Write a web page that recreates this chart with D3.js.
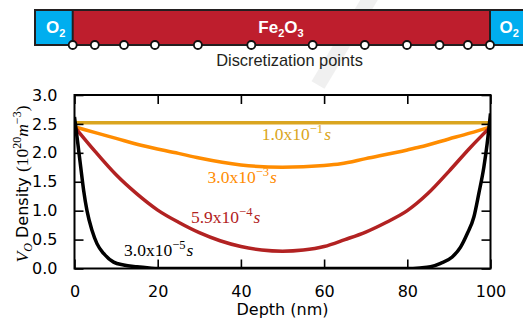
<!DOCTYPE html>
<html><head><meta charset="utf-8">
<script src="https://cdn.jsdelivr.net/npm/d3@7"></script>
<style>body{margin:0;background:#fff} svg{display:block}</style>
</head><body><svg id="c" width="523" height="320"></svg>
<script>
// ---------- data ----------
const xTicks = [0, 20, 40, 60, 80, 100];
const xTickLabels = ["0", "20", "40", "60", "80", "100"];
const yTicks = [0, 0.5, 1.0, 1.5, 2.0, 2.5, 3.0];
const yTickLabels = ["0.0", "0.5", "1.0", "1.5", "2.0", "2.5", "3.0"];

const discretizationPoints = [0, 5.3, 12.3, 19.7, 30.0, 42.8, 57.5, 70.0, 80.1, 87.9, 94.7, 100];

const depthT1 = [0, 25, 50, 75, 100];
const valT1   = [2.52, 2.52, 2.52, 2.52, 2.52];           // 1.0x10^-1 s

const depthT2 = [0, 5, 10, 16, 25, 30, 40, 50, 60, 64, 70, 80, 83, 90, 95, 100];
const valT2   = [2.45, 2.35, 2.25, 2.13, 1.99, 1.91, 1.79, 1.75, 1.78, 1.81, 1.90, 2.05, 2.10, 2.24, 2.34, 2.45];   // 3.0x10^-3 s

const depthT3 = [0, 5, 10, 15, 20, 25, 30, 35, 40, 45, 50, 55, 60, 65, 70, 75, 80, 85, 90, 95, 100];
const valT3   = [2.45, 2.02, 1.62, 1.29, 1.01, 0.80, 0.62, 0.48, 0.38, 0.32, 0.30, 0.32, 0.38, 0.50, 0.63, 0.80, 1.00, 1.30, 1.68, 2.08, 2.45];   // 5.9x10^-4 s

const depthT4 = [0, 0.8, 1.5, 2.2, 3.0, 4.2, 5.4, 7.0, 9.4, 11.8, 15, 18, 20, 80, 83, 85.6, 88, 90.8, 92.8, 94.4, 96, 97.2, 98.4, 99.2, 100];
const valT4   = [2.62, 2.16, 1.75, 1.35, 1.00, 0.66, 0.43, 0.26, 0.11, 0.06, 0.03, 0.01, 0.0, 0.0, 0.01, 0.03, 0.09, 0.20, 0.37, 0.60, 0.89, 1.30, 1.75, 2.16, 2.68];   // 3.0x10^-5 s

const labelMantissa = ["1.0", "3.0", "5.9", "3.0"];
const labelExponent = ["\u22121", "\u22123", "\u22124", "\u22125"];
// label anchor (depth, value) in data units
const labelDepth = [45.0, 32.0, 28.0, 11.9];
const labelValue = [2.22, 1.47, 0.78, 0.215];

// ---------- styles ----------
const colors = ["#DAA520", "#FF8C00", "#B22222", "#000000"];
const serif = "'Liberation Serif', 'Times New Roman', serif";
const sans = "'DejaVu Sans', sans-serif";
const arial = "'Liberation Sans', Arial, sans-serif";

const svg = d3.select("#c");

// faint watermark-like band
svg.append("path")
  .attr("d", "M372,-5 L318,85")
  .attr("stroke", "#f0f0f0").attr("stroke-width", 15).attr("fill", "none");

// ---------- top diagram ----------
const dx = d3.scaleLinear().domain([0, 100]).range([72.7, 490]);
const barTop = 10, barBot = 45;
const g0 = svg.append("g");
g0.append("rect").attr("x", 35).attr("y", barTop).attr("width", dx(0) - 35).attr("height", barBot - barTop).attr("fill", "#00AEEF");
g0.append("rect").attr("x", dx(0)).attr("y", barTop).attr("width", dx(100) - dx(0)).attr("height", barBot - barTop).attr("fill", "#BE1E2D");
g0.append("rect").attr("x", dx(100)).attr("y", barTop).attr("width", 40).attr("height", barBot - barTop).attr("fill", "#00AEEF");
g0.append("path")
  .attr("d", `M530,${barTop}H35V${barBot}H530`)
  .attr("fill", "none").attr("stroke", "#231f20").attr("stroke-width", 2);
[0, 100].forEach(v => g0.append("line").attr("x1", dx(v)).attr("x2", dx(v)).attr("y1", barTop).attr("y2", barBot).attr("stroke", "#231f20").attr("stroke-width", 2));

function chem(g, x, y, parts, anchor) {
  const t = g.append("text").attr("x", x).attr("y", y).attr("fill", "#fff")
    .attr("font-family", arial).attr("font-weight", "bold").attr("text-anchor", anchor || "start");
  parts.forEach(p => {
    const s = t.append("tspan").text(p[0]).attr("font-size", p[1] ? 11 : 17);
    if (p[1]) s.attr("dy", 4); else if (p[2]) s.attr("dy", -4);
  });
  return t;
}
chem(g0, 46, 33.3, [["O"], ["2", 1]]);
chem(g0, 499.5, 33.3, [["O"], ["2", 1]]);
chem(g0, 281, 33.3, [["Fe"], ["2", 1], ["O", 0, 1], ["3", 1]], "middle");

g0.selectAll("circle.dp").data(discretizationPoints).enter().append("circle")
  .attr("cx", d => dx(d)).attr("cy", barBot).attr("r", 4)
  .attr("fill", "#fff").attr("stroke", "#111").attr("stroke-width", 1.8);

g0.append("text").attr("x", 289.5).attr("y", 66).attr("text-anchor", "middle")
  .attr("font-family", arial).attr("font-size", 16.4).attr("fill", "#231f20")
  .text("Discretization points");

// ---------- plot ----------
const x = d3.scaleLinear().domain([0, 100]).range([74.5, 490.5]);
const y = d3.scaleLinear().domain([0, 3]).range([268.5, 95]);

const line = d3.line().x(d => x(d[0])).y(d => y(d[1])).curve(d3.curveMonotoneX);
const series = [
  d3.zip(depthT1, valT1),
  d3.zip(depthT2, valT2),
  d3.zip(depthT3, valT3),
  d3.zip(depthT4, valT4)
];
const plot = svg.append("g");
plot.append("defs").append("clipPath").attr("id", "clip")
  .append("rect").attr("x", x(0)).attr("y", y(3)).attr("width", x(100) - x(0)).attr("height", y(0) - y(3));
series.forEach((s, i) => {
  plot.append("path").datum(s).attr("d", line)
    .attr("fill", "none").attr("stroke", colors[i]).attr("stroke-width", 3.5)
    .attr("stroke-linejoin", "round").attr("clip-path", "url(#clip)");
});

// series labels
labelMantissa.forEach((m, i) => {
  const t = svg.append("text").attr("x", x(labelDepth[i])).attr("y", y(labelValue[i]))
    .attr("font-family", serif).attr("font-size", 17.5).attr("fill", colors[i]);
  t.append("tspan").text(m + "x10");
  t.append("tspan").text(labelExponent[i]).attr("font-size", 12.5).attr("dy", -7);
  t.append("tspan").text("s").attr("font-style", "italic").attr("dy", 7).attr("dx", 1);
});

// axes (ticks inward on all sides)
const tl = 9;
const axB = d3.axisBottom(x).tickValues(xTicks).tickFormat((d, i) => xTickLabels[i]).tickSizeInner(-tl).tickSizeOuter(0).tickPadding(8 + tl);
const axT = d3.axisTop(x).tickValues(xTicks).tickFormat("").tickSizeInner(-tl).tickSizeOuter(0);
const axL = d3.axisLeft(y).tickValues(yTicks).tickFormat((d, i) => yTickLabels[i]).tickSizeInner(-tl).tickSizeOuter(0).tickPadding(8 + tl);
const axR = d3.axisRight(y).tickValues(yTicks).tickFormat("").tickSizeInner(-tl).tickSizeOuter(0);
function styleAx(g) {
  g.select(".domain").remove();
  g.selectAll(".tick line").attr("stroke", "#000").attr("stroke-width", 1.6);
  g.selectAll(".tick text").attr("font-family", sans).attr("font-size", 16).attr("fill", "#000");
}
svg.append("g").attr("transform", `translate(0,${y(0)})`).call(axB).call(styleAx);
svg.append("g").attr("transform", `translate(0,${y(3)})`).call(axT).call(styleAx);
svg.append("g").attr("transform", `translate(${x(0)},0)`).call(axL).call(styleAx);
svg.append("g").attr("transform", `translate(${x(100)},0)`).call(axR).call(styleAx);

svg.append("rect").attr("x", x(0)).attr("y", y(3)).attr("width", x(100) - x(0)).attr("height", y(0) - y(3))
  .attr("fill", "none").attr("stroke", "#000").attr("stroke-width", 2);

// axis labels
svg.append("text").attr("x", (x(0) + x(100)) / 2).attr("y", 315).attr("text-anchor", "middle")
  .attr("font-family", sans).attr("font-size", 16).attr("fill", "#000").text("Depth (nm)");

const yl = svg.append("text").attr("transform", "translate(28,184) rotate(-90)")
  .attr("text-anchor", "middle").attr("font-size", 17.5).attr("fill", "#000").attr("font-family", serif);
yl.append("tspan").text("V").attr("font-style", "italic");
yl.append("tspan").text("O").attr("font-style", "italic").attr("font-size", 12).attr("dy", 4);
yl.append("tspan").text(" Density ").attr("font-family", sans).attr("font-size", 16).attr("dy", -4);
yl.append("tspan").text("(10");
yl.append("tspan").text("20").attr("font-size", 12).attr("dy", -7);
yl.append("tspan").text("m").attr("font-style", "italic").attr("dy", 7);
yl.append("tspan").text("\u22123").attr("font-size", 12).attr("dy", -7);
yl.append("tspan").text(")").attr("dy", 7);
</script></body></html>
